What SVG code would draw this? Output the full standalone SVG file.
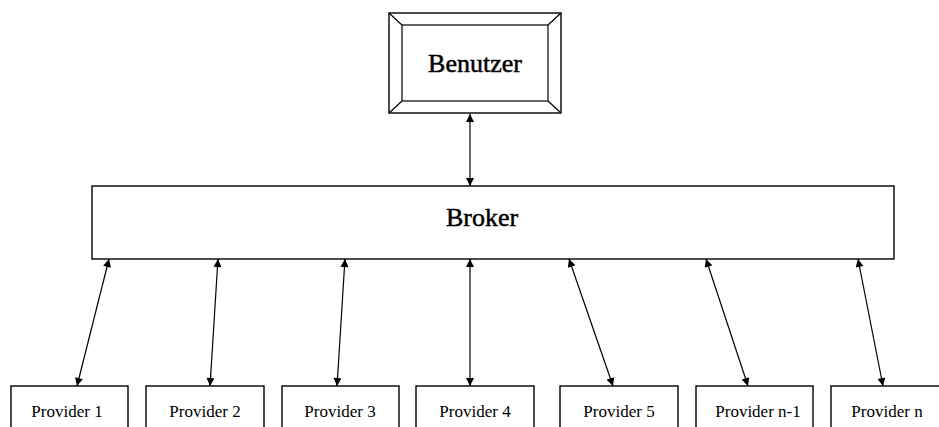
<svg xmlns="http://www.w3.org/2000/svg" width="939" height="427" viewBox="0 0 939 427">
<style>
.box{fill:#fff;stroke:#000;stroke-width:1.4}
.thin{fill:none;stroke:#000;stroke-width:1.2}
.lbl{font-family:"Liberation Serif","Times New Roman",serif;fill:#000;text-anchor:middle}
.big{font-size:26px;stroke:#000;stroke-width:0.5}
.sm{font-size:17px}
.con{stroke:#000;stroke-width:1.2;fill:none;marker-start:url(#ah);marker-end:url(#ah)}
</style>
<defs>
<marker id="ah" viewBox="0 0 10 10" refX="10" refY="5" markerWidth="9" markerHeight="8" markerUnits="userSpaceOnUse" orient="auto-start-reverse">
<path d="M0,0 L10,5 L0,10 z" fill="#000"/>
</marker>
</defs>
<rect width="939" height="427" fill="#fff"/>
<g id="benutzer">
<rect class="box" x="389" y="13" width="172" height="100"/>
<rect class="thin" x="402" y="25" width="146" height="76"/>
<path class="thin" d="M389,13 L402,25 M561,13 L548,25 M389,113 L402,101 M561,113 L548,101"/>
<text class="lbl big" x="475" y="72">Benutzer</text>
</g>
<g id="broker">
<rect class="box" x="92" y="186" width="802" height="73"/>
<text class="lbl big" x="482" y="226">Broker</text>
</g>
<g id="p1"><rect class="box" x="11" y="386" width="117" height="60"/><text class="lbl sm" x="67" y="417">Provider 1</text></g>
<g id="p2"><rect class="box" x="146" y="386" width="118" height="60"/><text class="lbl sm" x="205" y="417">Provider 2</text></g>
<g id="p3"><rect class="box" x="282" y="386" width="117" height="60"/><text class="lbl sm" x="340" y="417">Provider 3</text></g>
<g id="p4"><rect class="box" x="416" y="386" width="118" height="60"/><text class="lbl sm" x="475" y="417">Provider 4</text></g>
<g id="p5"><rect class="box" x="560" y="386" width="118" height="60"/><text class="lbl sm" x="619" y="417">Provider 5</text></g>
<g id="pn1"><rect class="box" x="696" y="386" width="117" height="60"/><text class="lbl sm" x="758" y="417">Provider n-1</text></g>
<g id="pn"><rect class="box" x="831" y="386" width="118" height="60"/><text class="lbl sm" x="887" y="417">Provider n</text></g>
<g id="connectors">
<line class="con" x1="470" y1="114" x2="470" y2="186"/>
<line class="con" x1="109" y1="259" x2="77" y2="386"/>
<line class="con" x1="218" y1="259" x2="210" y2="386"/>
<line class="con" x1="345" y1="259" x2="337" y2="386"/>
<line class="con" x1="470" y1="259" x2="470" y2="386"/>
<line class="con" x1="569" y1="259" x2="613" y2="386"/>
<line class="con" x1="706" y1="259" x2="748" y2="386"/>
<line class="con" x1="858" y1="259" x2="883" y2="386"/>
</g>
</svg>
